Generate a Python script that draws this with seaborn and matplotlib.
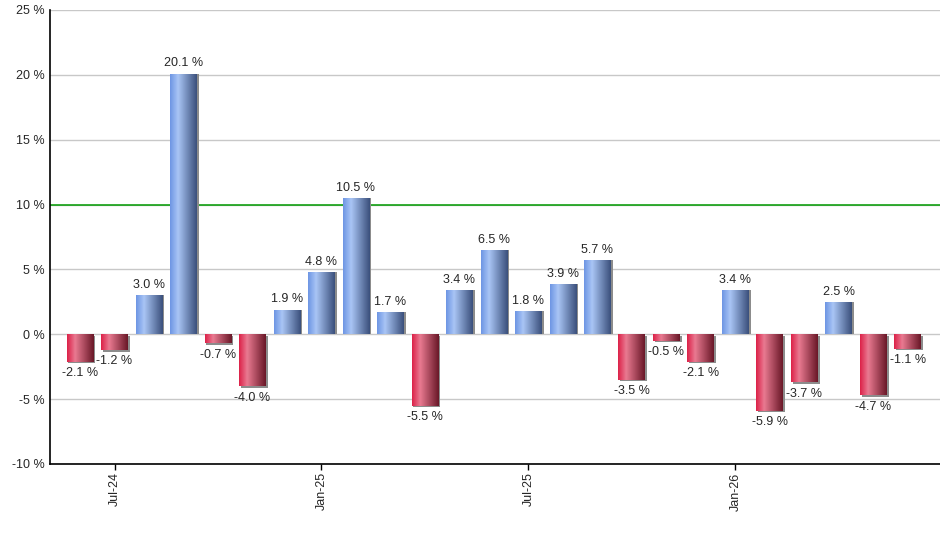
import numpy as np
import pandas as pd
import matplotlib
matplotlib.use("Agg")
import matplotlib.pyplot as plt
import matplotlib.transforms as mtransforms
from matplotlib.colors import LinearSegmentedColormap
import seaborn as sns

months = ["Jun-24", "Jul-24", "Aug-24", "Sep-24", "Oct-24", "Nov-24", "Dec-24",
          "Jan-25", "Feb-25", "Mar-25", "Apr-25", "May-25", "Jun-25", "Jul-25",
          "Aug-25", "Sep-25", "Oct-25", "Nov-25", "Dec-25", "Jan-26", "Feb-26",
          "Mar-26", "Apr-26", "May-26", "Jun-26"]
returns = [-2.1, -1.2, 3.0, 20.1, -0.7, -4.0, 1.9, 4.8, 10.5, 1.7, -5.5, 3.4, 6.5,
           1.8, 3.9, 5.7, -3.5, -0.5, -2.1, 3.4, -5.9, -3.7, 2.5, -4.7, -1.1]
tick_months = ["Jul-24", "Jan-25", "Jul-25", "Jan-26"]
yticks = [-10, -5, 0, 5, 10, 15, 20, 25]
target = 10

df = pd.DataFrame({"month": months, "ret": returns})
df["sign"] = np.where(df["ret"] >= 0, "pos", "neg")

sns.set_style("white")
plt.rcParams["font.family"] = ["Liberation Sans", "DejaVu Sans"]

fig = plt.figure(figsize=(9.4, 5.5), dpi=100)
ax = fig.add_axes([50 / 940, 86 / 550, 890 / 940, 454 / 550])

sns.barplot(data=df, x="month", y="ret", hue="sign", order=months,
            palette={"pos": "#6f93d8", "neg": "#c8304f"}, width=0.78,
            legend=False, ax=ax, zorder=3, linewidth=0)

blue = LinearSegmentedColormap.from_list(
    "b", [(0, "#6e96e4"), (0.3, "#a9c5f5"), (1, "#3b507c")])
red = LinearSegmentedColormap.from_list(
    "r", [(0, "#dc2249"), (0.3, "#e97a91"), (1, "#6a1828")])
grad = np.linspace(0, 1, 64).reshape(1, -1)

for p in list(ax.patches):
    x0, w = p.get_x(), p.get_width()
    y0, h = p.get_y(), p.get_height()
    if w == 0 or h == 0:
        continue
    p.set_edgecolor("none")
    dy = 0 if h > 0 else -1.2 / 72
    shift = mtransforms.ScaledTranslation(1.2 / 72, dy, fig.dpi_scale_trans)
    shadow = plt.Rectangle((x0, y0), w, h, facecolor="#8c8c8c",
                           edgecolor="none", zorder=2.5,
                           transform=ax.transData + shift)
    ax.add_patch(shadow)
    cmap = blue if h > 0 else red
    lo, hi = min(y0, y0 + h), max(y0, y0 + h)
    im = ax.imshow(grad, cmap=cmap, aspect="auto", interpolation="bilinear",
                   extent=(x0, x0 + w, lo, hi), zorder=4)
    im.set_clip_path(p)

for i, v in enumerate(returns):
    if v >= 0:
        ax.annotate(f"{v:.1f} %", (i, v), xytext=(0, 3), textcoords="offset points",
                    ha="center", va="bottom", fontsize=9, zorder=6)
    else:
        ax.annotate(f"{v:.1f} %", (i, v), xytext=(0, -4), textcoords="offset points",
                    ha="center", va="top", fontsize=9, zorder=6)

ax.axhline(target, color="#009a00", lw=1.1, zorder=1.5)

ax.set_xlim(-0.87, 24.93)
ax.set_ylim(-10, 25)
ax.set_yticks(yticks)
ax.set_yticklabels([f"{t} %" for t in yticks], fontsize=9)
ax.set_xticks([months.index(m) for m in tick_months])
ax.set_xticklabels(tick_months, rotation=90, fontsize=9)
ax.tick_params(axis="x", bottom=True, length=4, width=1, color="black",
               direction="out", pad=2)
ax.tick_params(axis="y", length=0, pad=4)
ax.grid(axis="y", color="#c8c8c8", lw=1, zorder=0)
ax.set_axisbelow(True)
ax.set_xlabel("")
ax.set_ylabel("")
for s in ["top", "right"]:
    ax.spines[s].set_visible(False)
for s in ["left", "bottom"]:
    ax.spines[s].set_color("black")
    ax.spines[s].set_linewidth(1.2)

fig.savefig("out.png", dpi=100)
